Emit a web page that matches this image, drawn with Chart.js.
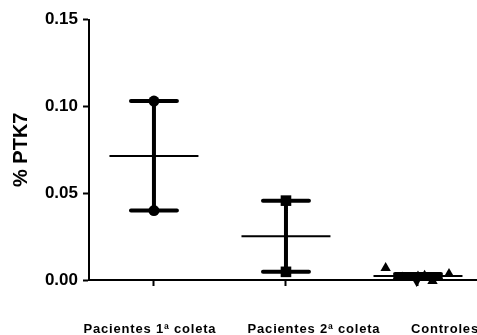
<!DOCTYPE html>
<html>
<head>
<meta charset="utf-8">
<script src="https://cdn.jsdelivr.net/npm/chart.js@4/dist/chart.umd.min.js"></script>
<style>
  html, body { margin: 0; padding: 0; background: #fff; }
  #wrap { width: 477px; height: 335px; position: relative; }
</style>
</head>
<body>
<div id="wrap"><canvas id="grafico"></canvas></div>
<script>
// valores (% PTK7)
const grupos = ['Pacientes 1ª coleta', 'Pacientes 2ª coleta', 'Controles'];
const coleta1 = [0.103, 0.040];
const coleta2 = [0.0457, 0.0047];
const controles = [0.0069, 0.0015, -0.0006, 0.0020, -0.0006, 0.0025, 0.0035];
const controlesJitter = [-0.245, -0.12, -0.01, 0.0, 0.11, 0.05, 0.235];
const medias = [0.0714, 0.0252, 0.0023];
const barraInf = [0.040, 0.0047, 0.0008];
const barraSup = [0.103, 0.0457, 0.0035];
const yTicks = [0, 0.05, 0.10, 0.15];

const CAP = 0.174;   // meia largura das barras de erro (unidades x)
const MEAN = 0.337;  // meia largura da linha da média
const FONT = 'Arial, "Liberation Sans", sans-serif';

Chart.defaults.color = '#000';
Chart.defaults.font.family = FONT;

// linhas da média e barras de erro, separadas por pontos nulos
const linhasMedia = [];
const whiskers = [];
medias.forEach((m, i) => {
    const g = i + 1;
    linhasMedia.push({ x: g - MEAN, y: m }, { x: g + MEAN, y: m }, { x: g, y: null });
    const lo = barraInf[i], hi = barraSup[i];
    whiskers.push(
        { x: g, y: lo }, { x: g, y: hi }, { x: g, y: null },
        { x: g - CAP, y: lo }, { x: g + CAP, y: lo }, { x: g, y: null },
        { x: g - CAP, y: hi }, { x: g + CAP, y: hi }, { x: g, y: null }
    );
});

const labelsX = {
    id: 'labelsX',
    afterDraw(chart) {
        const { ctx, scales: { x } } = chart;
        const desloc = [-4, 28, 27];
        ctx.save();
        ctx.font = 'bold 13px ' + FONT;
        ctx.fillStyle = '#000';
        ctx.textAlign = 'center';
        ctx.textBaseline = 'alphabetic';
        ctx.letterSpacing = '0.8px';
        grupos.forEach((g, i) => {
            ctx.fillText(g, x.getPixelForValue(i + 1) + desloc[i], 333);
        });
        ctx.restore();
    }
};

new Chart(document.getElementById('grafico'), {
    type: 'scatter',
    data: {
        datasets: [
            {
                data: coleta1.map(v => ({ x: 1, y: v })),
                pointStyle: 'circle', pointRadius: 5.5,
                backgroundColor: '#000', borderColor: '#000', borderWidth: 0
            },
            {
                data: coleta2.map(v => ({ x: 2, y: v })),
                pointStyle: 'rect', pointRadius: 7.5,
                backgroundColor: '#000', borderColor: '#000', borderWidth: 0
            },
            {
                data: controles.map((v, i) => ({ x: 3 + controlesJitter[i], y: v })),
                pointStyle: 'triangle', pointRadius: 6,
                rotation: controles.map((v, i) => (i === 2 ? 180 : 0)),
                backgroundColor: '#000', borderColor: '#000', borderWidth: 0
            },
            {
                data: whiskers, showLine: true, spanGaps: false,
                borderColor: '#000', borderWidth: 4, borderCapStyle: 'round',
                pointRadius: 0
            },
            {
                data: linhasMedia, showLine: true, spanGaps: false,
                borderColor: '#000', borderWidth: 2,
                pointRadius: 0
            }
        ]
    },
    options: {
        responsive: true,
        maintainAspectRatio: false,
        animation: false,
        clip: false,
        layout: { autoPadding: false, padding: { top: 19.5, left: 0, right: 0, bottom: 0 } },
        plugins: {
            legend: { display: false },
            tooltip: { enabled: false }
        },
        scales: {
            x: {
                type: 'linear',
                min: 0.508,
                max: 3.447,
                afterBuildTicks: s => { s.ticks = grupos.map((g, i) => ({ value: i + 1 })); },
                afterFit: s => { s.height = 55; },
                ticks: { display: false },
                grid: {
                    display: true, drawOnChartArea: false, drawTicks: true,
                    tickLength: 6, tickWidth: 2, tickColor: '#000', color: '#000'
                },
                border: { display: true, width: 2, color: '#000' }
            },
            y: {
                min: 0,
                max: 0.15,
                afterBuildTicks: s => { s.ticks = yTicks.map(v => ({ value: v })); },
                afterFit: s => { s.width = 89; },
                ticks: {
                    padding: 5,
                    font: { size: 17, weight: 'bold' },
                    color: '#000',
                    callback: v => v.toFixed(2)
                },
                grid: {
                    display: true, drawOnChartArea: false, drawTicks: true,
                    tickLength: 6, tickWidth: 2, tickColor: '#000', color: '#000'
                },
                border: { display: true, width: 2, color: '#000' },
                title: {
                    display: true,
                    text: '% PTK7',
                    color: '#000',
                    font: { size: 20, weight: 'bold' },
                    padding: { top: 9, bottom: 0 }
                }
            }
        }
    },
    plugins: [labelsX]
});
</script>
</body>
</html>
